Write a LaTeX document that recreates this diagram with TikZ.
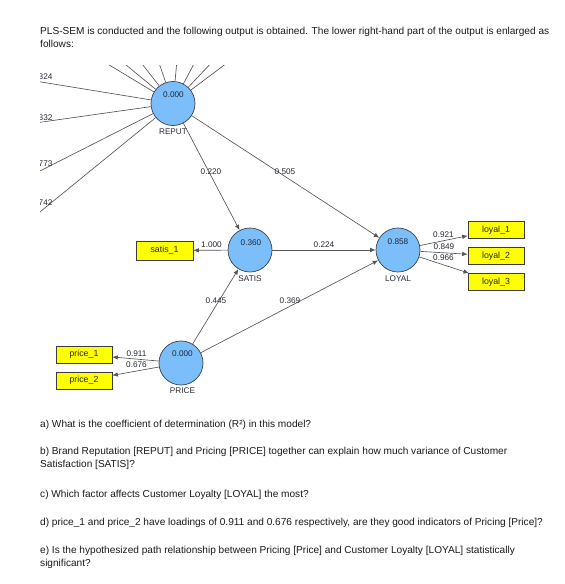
\documentclass[tikz,border=0pt]{standalone}
\usepackage{fontspec}
\setmainfont{Liberation Sans}
\usetikzlibrary{arrows.meta}
\definecolor{lvfill}{RGB}{124,190,250}
\definecolor{lvdraw}{RGB}{55,65,85}
\definecolor{indfill}{RGB}{255,255,0}
\definecolor{inddraw}{RGB}{60,60,60}
\definecolor{lnc}{RGB}{85,85,85}
\definecolor{txtc}{RGB}{35,40,55}
\tikzset{
  lv/.style={circle, draw=lvdraw, fill=lvfill, minimum size=44pt, inner sep=0pt, line width=0.7pt},
  ind/.style={rectangle, draw=inddraw, fill=indfill, minimum width=56pt, minimum height=17pt, inner sep=0pt, line width=0.6pt, font=\fontsize{8.8}{10}\selectfont, text=black!85},
  lab/.style={font=\fontsize{8.2}{9}\selectfont, text=txtc, inner sep=0pt},
  conn/.style={draw=lnc, line width=0.65pt},
  arr/.style={conn, -{Latex[length=5.5pt,width=4.5pt]}},
  qline/.style={anchor=base west, inner sep=0pt, font=\fontsize{10.1}{12}\selectfont, text=black!90},
}
\begin{document}
\begin{tikzpicture}[x=1pt,y=-1pt]
\useasboundingbox (0,0) rectangle (565,584);
% question text
\node[qline] (t1) at (40,34) {PLS-SEM is conducted and the following output is obtained. The lower right-hand part of the output is enlarged as};
\node[qline] (t2) at (40,47.5) {follows:};
\node[qline] (qa) at (40,427) {a) What is the coefficient of determination (R²) in this model?};
\node[qline] (qb1) at (40,454) {b) Brand Reputation [REPUT] and Pricing [PRICE] together can explain how much variance of Customer};
\node[qline] (qb2) at (40,467.5) {Satisfaction [SATIS]?};
\node[qline] (qc) at (40,497) {c) Which factor affects Customer Loyalty [LOYAL] the most?};
\node[qline] (qd) at (40,525) {d) price\_1 and price\_2 have loadings of 0.911 and 0.676 respectively, are they good indicators of Pricing [Price]?};
\node[qline] (qe1) at (40,553) {e) Is the hypothesized path relationship between Pricing [Price] and Customer Loyalty [LOYAL] statistically};
\node[qline] (qe2) at (40,566.5) {significant?};
% latent variables
\node[lv] (REPUT) at (173,103.5) {};
\node[lv] (SATIS) at (250,250) {};
\node[lv] (LOYAL) at (398,250) {};
\node[lv] (PRICE) at (181,363) {};
% indicators
\node[ind, minimum width=57pt, minimum height=19pt] (satis1) at (164.5,250.5) {satis\_1};
\node[ind] (loyal1) at (496,230) {loyal\_1};
\node[ind] (loyal2) at (496,256) {loyal\_2};
\node[ind] (loyal3) at (496,282) {loyal\_3};
\node[ind] (price1) at (84,354.5) {price\_1};
\node[ind] (price2) at (84,380.5) {price\_2};
% REPUT indicator lines (cropped)
\begin{scope}
\clip (40,65) rectangle (565,410);
\foreach \n/\px/\py in {a/101/60,b/120/60,c/139/60,d/158/60,e/177/60,f/196/60,g/214/60,h/231/60,i/35/81,j/35/123,k/35/173.5,l/35/216}{
  \coordinate (r\n) at (\px,\py);
  \draw[conn] (REPUT) -- (r\n);
}
\node[lab, anchor=west] (c324) at (38.5,77) {324};
\node[lab, anchor=west] (c332) at (38.5,118) {332};
\node[lab, anchor=west] (c773) at (38.5,164) {773};
\node[lab, anchor=west] (c742) at (38.5,203) {742};
\end{scope}
% structural paths
\draw[arr] (REPUT) -- (SATIS);
\draw[arr] (REPUT) -- (LOYAL);
\draw[arr] (SATIS) -- (LOYAL);
\draw[arr] (PRICE) -- (SATIS);
\draw[arr] (PRICE) -- (LOYAL);
% outer loadings
\draw[arr] (SATIS) -- (satis1);
\draw[arr] (LOYAL) -- (loyal1);
\draw[arr] (LOYAL) -- (loyal2);
\draw[arr] (LOYAL) -- (loyal3);
\draw[arr] (PRICE) -- (price1);
\draw[arr] (PRICE) -- (price2);
% LV texts
\node[lab] (vREPUT) at (173.5,95) {0.000};
\node[lab] (nREPUT) at (173,132) {REPUT};
\node[lab] (vSATIS) at (251,242.5) {0.360};
\node[lab] (nSATIS) at (250,279) {SATIS};
\node[lab] (vLOYAL) at (398,242) {0.858};
\node[lab] (nLOYAL) at (398,279) {LOYAL};
\node[lab] (vPRICE) at (182.5,353.5) {0.000};
\node[lab] (nPRICE) at (182.5,391) {PRICE};
% path labels
\node[lab] (p220) at (211,172) {0.220};
\node[lab] (p505) at (285,172) {0.505};
\node[lab] (p224) at (324,244.5) {0.224};
\node[lab] (p445) at (216,300.5) {0.445};
\node[lab] (p369) at (290,300.5) {0.369};
\node[lab] (p1000) at (211.5,244.5) {1.000};
\node[lab] (p921) at (443.5,234.5) {0.921};
\node[lab] (p849) at (444,246.5) {0.849};
\node[lab] (p966) at (443.5,258) {0.966};
\node[lab] (p911) at (136.5,353.5) {0.911};
\node[lab] (p676) at (136.5,365) {0.676};
\end{tikzpicture}
\end{document}
